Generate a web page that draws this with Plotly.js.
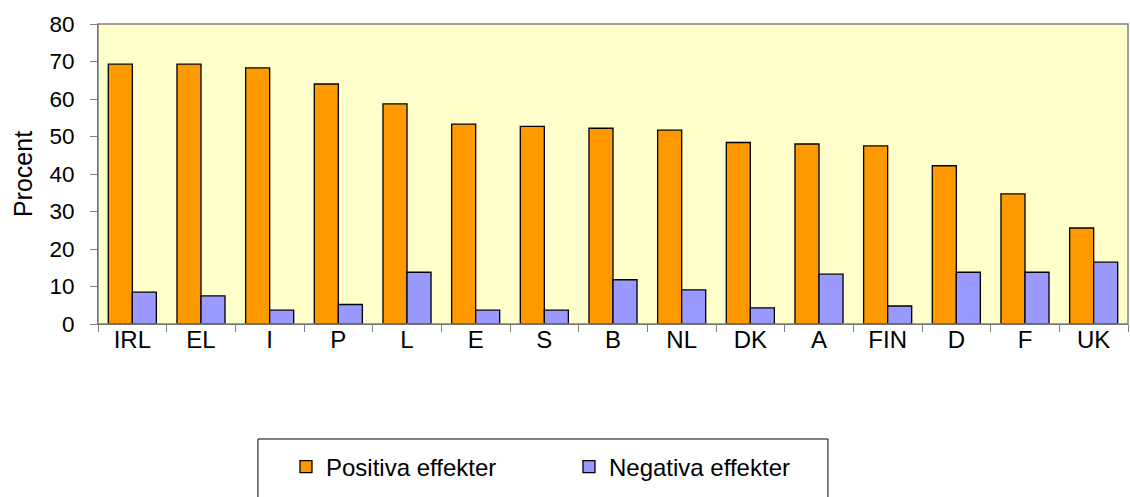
<!DOCTYPE html>
<html>
<head>
<meta charset="utf-8">
<script src="https://cdn.plot.ly/plotly-3.0.1.min.js"></script>
<style>html,body{margin:0;padding:0;background:#fff;}#chart{width:1130px;height:497px;}</style>
</head>
<body>
<div id="chart"></div>
<script>
const categories = ["IRL","EL","I","P","L","E","S","B","NL","DK","A","FIN","D","F","UK"];
const positiva = [69.3,69.3,68.3,64.0,58.7,53.3,52.7,52.2,51.7,48.4,48.0,47.5,42.2,34.7,25.6];
const negativa = [8.5,7.5,3.7,5.2,13.8,3.7,3.7,11.8,9.1,4.3,13.3,4.8,13.8,13.8,16.5];
const seriesNames = ["Positiva effekter","Negativa effekter"];
const yTicks = [0,10,20,30,40,50,60,70,80];

const fam = "Liberation Sans, Arial, sans-serif";
const font = {family: fam, size: 24, color: "#000"};
const yfont = {family: fam, size: 22.5, color: "#000"};
const tfont = {family: fam, size: 25, color: "#000"};
const traces = [
  {type:"bar", name: seriesNames[0], x: categories, y: positiva,
   marker:{color:"#FF9900", line:{color:"#000", width:1.3}}},
  {type:"bar", name: seriesNames[1], x: categories, y: negativa,
   marker:{color:"#9999FF", line:{color:"#000", width:1.3}}}
];
const layout = {
  width:1130, height:497,
  margin:{l:98, r:2, t:24, b:173, pad:0},
  paper_bgcolor:"#fff", plot_bgcolor:"#FFFFCC",
  font: font,
  barmode:"group", bargap:0.3, bargroupgap:0,
  showlegend:true,
  legend:{orientation:"h", x:0.1825, xanchor:"left", y:-0.477, yanchor:"middle",
    font:font, bgcolor:"rgba(0,0,0,0)", borderwidth:0, entrywidth:238, entrywidthmode:"pixels"},
  xaxis:{type:"category", showline:true, linecolor:"#555", linewidth:1,
    ticks:"outside", ticklen:7, tickcolor:"#808080", tickson:"boundaries",
    ticklabelstandoff:-6,
    showgrid:false, zeroline:false, tickfont:font},
  yaxis:{range:[0,80], tickvals:yTicks, ticktext:yTicks.map(String),
    showline:true, linecolor:"#555", linewidth:1,
    ticks:"outside", ticklen:7, tickcolor:"#808080", showgrid:false, zeroline:false,
    ticklabelstandoff:11,
    tickfont:yfont, title:{text:"Procent", font:tfont, standoff:9}},
  shapes:[
    {type:"rect", xref:"paper", yref:"paper", x0:0, x1:1, y0:0, y1:1,
     line:{color:"#808080", width:1.5}, layer:"above"},
    {type:"rect", xref:"paper", yref:"paper", x0:0.1553, x1:0.7087, y0:-0.3833, y1:-0.6,
     line:{color:"#000", width:1}, layer:"above"}
  ]
};
Plotly.newPlot("chart", traces, layout, {staticPlot:true, displayModeBar:false});
</script>
</body>
</html>
